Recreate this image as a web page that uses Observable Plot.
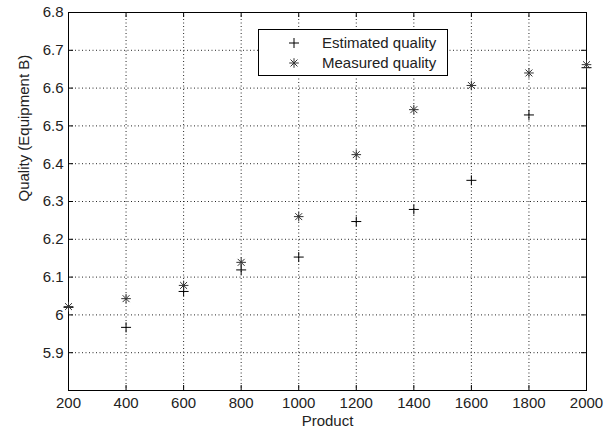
<!DOCTYPE html>
<html>
<head>
<meta charset="utf-8">
<script src="https://cdn.jsdelivr.net/npm/d3@7"></script>
<script src="https://cdn.jsdelivr.net/npm/@observablehq/plot@0.6"></script>
<style>
  body { margin: 0; background: #fff; }
  #wrap { position: relative; width: 615px; height: 431px; background: #fff; }
  #legend { position: absolute; left: 258px; top: 29px; }
</style>
</head>
<body>
<div id="wrap"></div>
<script>
const products  = [200, 400, 600, 800, 1000, 1200, 1400, 1600, 1800, 2000];
const estimated = [6.02, 5.967, 6.062, 6.119, 6.153, 6.247, 6.279, 6.356, 6.529, 6.654];
const measured  = [6.022, 6.043, 6.078, 6.139, 6.260, 6.424, 6.543, 6.607, 6.640, 6.662];
const xTicks = [200, 400, 600, 800, 1000, 1200, 1400, 1600, 1800, 2000];
const yTicks = [5.9, 6, 6.1, 6.2, 6.3, 6.4, 6.5, 6.6, 6.7, 6.8];
const seriesNames = ["Estimated quality", "Measured quality"];

const plusSymbol = {
  draw(ctx, size) {
    const r = Math.sqrt(size / Math.PI);
    ctx.moveTo(-r, 0); ctx.lineTo(r, 0);
    ctx.moveTo(0, -r); ctx.lineTo(0, r);
  }
};
const starSymbol = {
  draw(ctx, size) {
    const r = Math.sqrt(size / Math.PI);
    const d = r * 0.72;
    ctx.moveTo(-r, 0); ctx.lineTo(r, 0);
    ctx.moveTo(0, -r); ctx.lineTo(0, r);
    ctx.moveTo(-d, -d); ctx.lineTo(d, d);
    ctx.moveTo(-d, d); ctx.lineTo(d, -d);
  }
};

const estData = products.map((p, i) => ({product: p, value: estimated[i]}));
const measData = products.map((p, i) => ({product: p, value: measured[i]}));

const W = 615, H = 431, mL = 68, mR = 29, mT = 12, mB = 41;
const plotW = W - mL - mR, plotH = H - mT - mB;
const tickLen = 5;
const grid = {stroke: "black", strokeOpacity: 0.85, strokeDasharray: "1,2.5", strokeWidth: 1};

const chart = Plot.plot({
  width: W, height: H,
  marginLeft: mL, marginRight: mR, marginTop: mT, marginBottom: mB,
  style: {fontFamily: "'Liberation Sans', Arial, sans-serif", fontSize: "15px", color: "#222", background: "#fff"},
  x: {domain: [200, 2000], ticks: xTicks, tickSize: 0, tickPadding: 7, tickFormat: d => String(d), label: null},
  y: {domain: [5.8, 6.8], ticks: yTicks, tickSize: 0, tickPadding: 5, tickFormat: d => String(d), label: null},
  marks: [
    Plot.ruleX(xTicks.slice(1, -1), {x: d => d, ...grid}),
    Plot.ruleY(yTicks.slice(0, -1), {y: d => d, ...grid}),
    Plot.tickX(xTicks, {x: d => d, insetTop: plotH - tickLen, stroke: "black"}),
    Plot.tickX(xTicks, {x: d => d, insetBottom: plotH - tickLen, stroke: "black"}),
    Plot.tickY(yTicks, {y: d => d, insetRight: plotW - tickLen, stroke: "black"}),
    Plot.tickY(yTicks, {y: d => d, insetLeft: plotW - tickLen, stroke: "black"}),
    Plot.frame({stroke: "black", strokeWidth: 1}),
    Plot.dot(estData, {x: "product", y: "value", symbol: plusSymbol, r: 5, fill: "none", stroke: "black", strokeWidth: 1}),
    Plot.dot(measData, {x: "product", y: "value", symbol: starSymbol, r: 4.8, fill: "none", stroke: "#333", strokeWidth: 1}),
    Plot.text(["Product"], {text: d => d, frameAnchor: "bottom", dy: 35, fontSize: 15, fill: "#222"}),
    Plot.text(["Quality (Equipment B)"], {text: d => d, frameAnchor: "left", rotate: -90, dx: -44, fontSize: 15, fill: "#222"})
  ]
});

const wrap = document.getElementById("wrap");
wrap.appendChild(chart);

// Legend (MATLAB-style boxed legend)
const legend = document.createElement("div");
legend.id = "legend";
const lw = 190, lh = 47;
const ns = "http://www.w3.org/2000/svg";
const ls = d3.create("svg").attr("width", lw).attr("height", lh).attr("xmlns", ns);
ls.append("rect").attr("x", 0.5).attr("y", 0.5).attr("width", lw - 1).attr("height", lh - 1)
  .attr("fill", "#fff").attr("stroke", "black");
const syms = [plusSymbol, starSymbol];
seriesNames.forEach((name, i) => {
  const cy = 14 + i * 20;
  const p = d3.path();
  syms[i].draw(p, (i === 0 ? 5 : 4.8) ** 2 * Math.PI);
  ls.append("path").attr("d", p.toString()).attr("transform", `translate(36,${cy})`)
    .attr("fill", "none").attr("stroke", i === 0 ? "black" : "#333").attr("stroke-width", 1);
  ls.append("text").attr("x", 64).attr("y", cy).attr("dy", "0.36em")
    .attr("font-family", "'Liberation Sans', Arial, sans-serif").attr("font-size", 15)
    .attr("fill", "#222").text(name);
});
legend.appendChild(ls.node());
wrap.appendChild(legend);
</script>
</body>
</html>
